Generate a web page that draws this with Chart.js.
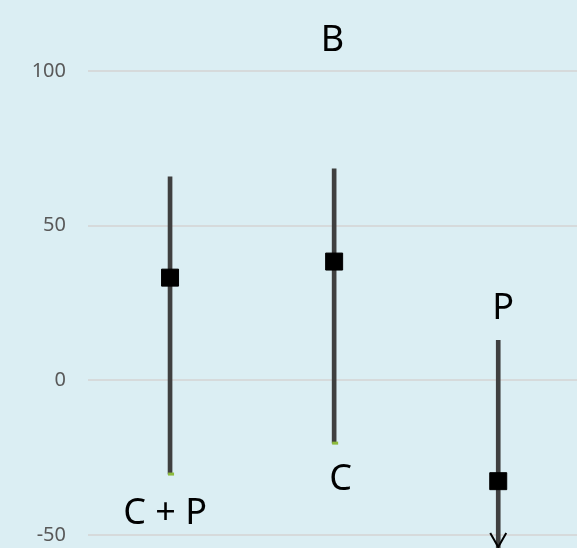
<!DOCTYPE html>
<html>
<head>
<meta charset="utf-8">
<script src="https://cdn.jsdelivr.net/npm/chart.js@4/dist/chart.umd.min.js"></script>
<style>
  html, body { margin: 0; padding: 0; background: #DBEEF3; }
  canvas { display: block; }
</style>
</head>
<body>
<canvas id="c" width="577" height="548"></canvas>
<script>
// ---- data ----
const chartTitle = 'B';
const categories = ['C + P', 'C', 'P'];
const means = [33.2, 38.4, -32.6];
const highs = [65.8, 68.4, 12.9];
const lows  = [-30.3, -20.3, -54.2];   // P: open-ended downward (arrow)
const arrowDown = [false, false, true];
const labelValues = [-43, -32, 23.3];   // y-value where each category's label sits
const labelShift  = [-0.03, 0.04, 0.03]; // horizontal shift in category units
const tickValues = [-50, 0, 50, 100];
const yMin = -54.2, yMax = 100;

const FONT = '"Noto Sans", "DejaVu Sans", sans-serif';
const xs = categories.map((_, i) => i + 1);

const bgPlugin = {
  id: 'bg',
  beforeDraw(chart) {
    const ctx = chart.ctx;
    ctx.save();
    ctx.fillStyle = '#DBEEF3';
    ctx.fillRect(0, 0, chart.width, chart.height);
    ctx.restore();
  }
};

const annoPlugin = {
  id: 'anno',
  afterDatasetsDraw(chart) {
    const ctx = chart.ctx;
    const x = chart.scales.x, y = chart.scales.y;
    ctx.save();
    xs.forEach((xv, i) => {
      const px = x.getPixelForValue(xv);
      if (arrowDown[i]) {
        const tip = y.getPixelForValue(lows[i]) - 1;
        ctx.strokeStyle = '#000';
        ctx.lineWidth = 2;
        ctx.beginPath();
        ctx.moveTo(px - 8, tip - 14);
        ctx.lineTo(px, tip);
        ctx.lineTo(px + 8, tip - 14);
        ctx.stroke();
      } else {
        const py = y.getPixelForValue(lows[i]);
        ctx.fillStyle = '#8DBB3C';
        ctx.fillRect(px - 2, py - 1.5, 6, 3);
      }
    });
    ctx.fillStyle = '#000';
    ctx.font = '36px ' + FONT;
    ctx.textAlign = 'center';
    ctx.textBaseline = 'middle';
    categories.forEach((name, i) => {
      ctx.fillText(name, x.getPixelForValue(xs[i] + labelShift[i]), y.getPixelForValue(labelValues[i]));
    });
    ctx.restore();
  }
};

new Chart(document.getElementById('c'), {
  data: {
    datasets: [
      {
        type: 'scatter',
        label: 'mean',
        data: xs.map((xv, i) => ({ x: xv, y: means[i] })),
        pointStyle: 'rect',
        pointRadius: 12,
        pointHoverRadius: 12,
        pointBackgroundColor: '#000',
        pointBorderColor: '#000',
        pointBorderWidth: 1,
        showLine: false,
        order: 0
      },
      {
        type: 'bar',
        label: 'range',
        data: xs.map((xv, i) => ({ x: xv, y: [lows[i], highs[i]] })),
        backgroundColor: '#3F3F3F',
        borderWidth: 0,
        barThickness: 4,
        order: 1
      }
    ]
  },
  options: {
    responsive: false,
    animation: false,
    events: [],
    layout: { padding: 0, autoPadding: false },
    plugins: {
      legend: { display: false },
      tooltip: { enabled: false },
      title: {
        display: true,
        text: chartTitle,
        fullSize: false,
        color: '#000',
        font: { family: FONT, size: 36, weight: 'normal' },
        padding: { top: 19, bottom: 8.8 }
      }
    },
    scales: {
      x: {
        type: 'linear',
        display: false,
        min: 0.5,
        max: 3.48,
        offset: false
      },
      y: {
        type: 'linear',
        min: yMin,
        max: yMax,
        border: { display: false },
        grid: { color: '#D6DADB', lineWidth: 2, drawTicks: false },
        ticks: {
          color: '#595959',
          font: { family: FONT, size: 20 },
          padding: 22
        },
        afterBuildTicks(scale) {
          scale.ticks = tickValues.map(v => ({ value: v }));
        },
        afterFit(scale) {
          scale.width = 88;
          scale.paddingTop = 0;
          scale.paddingBottom = 0;
        }
      }
    }
  },
  plugins: [bgPlugin, annoPlugin]
});
</script>
</body>
</html>
